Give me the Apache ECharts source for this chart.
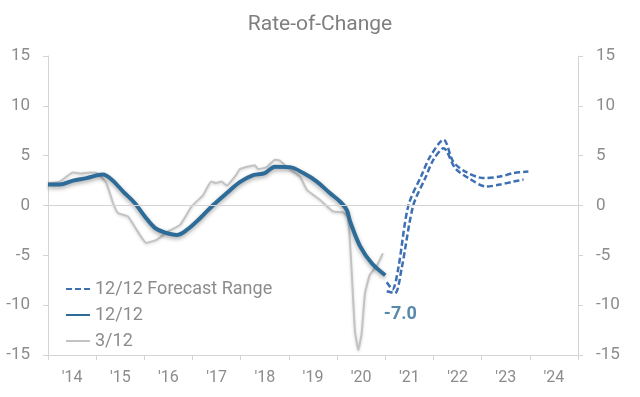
<!DOCTYPE html>
<html>
<head>
<meta charset="utf-8">
<script src="https://cdn.jsdelivr.net/npm/echarts@6/dist/echarts.min.js"></script>
<style>
  html, body { margin: 0; padding: 0; background: #fff; }
  #chart { width: 640px; height: 397px; }
</style>
</head>
<body>
<div id="chart"></div>
<script>
// year labels under the axis (one per year band)
const yearLabels = ["'14", "'15", "'16", "'17", "'18", "'19", "'20", "'21", "'22", "'23", "'24"]
const yTicks = [-15, -10, -5, 0, 5, 10, 15]

// [decimal year, rate-of-change %]
const rate12 = [
  [2014.0, 2.1], [2014.24, 2.1], [2014.52, 2.5], [2014.8, 2.75], [2015.04, 3.05], [2015.14, 3.1],
  [2015.32, 2.6], [2015.56, 1.4], [2015.8, 0.25], [2016.01, -1.1], [2016.22, -2.25], [2016.42, -2.7],
  [2016.67, -2.95], [2016.88, -2.45], [2017.15, -1.3], [2017.43, 0.05], [2017.71, 1.25], [2017.98, 2.35],
  [2018.26, 3.05], [2018.5, 3.25], [2018.71, 3.9], [2019.02, 3.85], [2019.3, 3.25], [2019.58, 2.4],
  [2019.85, 1.25], [2020.06, 0.4], [2020.2, -0.45], [2020.27, -1.6], [2020.48, -4.1], [2020.72, -5.8],
  [2021.0, -7.0]
]

const rate3 = [
  [2014.0, 2.25], [2014.24, 2.4], [2014.52, 3.3], [2014.69, 3.2], [2014.87, 3.3], [2015.04, 3.2],
  [2015.21, 2.25], [2015.35, 0.25], [2015.45, -0.75], [2015.66, -1.1], [2015.84, -2.45], [2016.04, -3.75],
  [2016.25, -3.45], [2016.49, -2.6], [2016.74, -1.95], [2016.98, -0.1], [2017.22, 1.05], [2017.39, 2.4],
  [2017.49, 2.25], [2017.6, 2.4], [2017.71, 2.0], [2017.91, 3.1], [2017.98, 3.65], [2018.29, 4.05],
  [2018.36, 3.65], [2018.54, 3.85], [2018.71, 4.6], [2018.81, 4.5], [2018.99, 3.75], [2019.23, 2.9],
  [2019.37, 1.6], [2019.65, 0.55], [2019.92, -0.6], [2020.13, -0.7], [2020.23, -1.3], [2020.3, -6.4],
  [2020.37, -12.5], [2020.44, -14.5], [2020.51, -12.8], [2020.58, -8.8], [2020.68, -6.95], [2020.82, -6.1],
  [2020.95, -4.8]
]

const forecastHigh = [
  [2021.03, -7.7], [2021.15, -8.4], [2021.27, -6.3], [2021.48, 0], [2021.76, 3.1], [2021.93, 4.9],
  [2022.21, 6.6], [2022.41, 4.4], [2022.66, 3.4], [2023.04, 2.75], [2023.38, 2.9], [2023.66, 3.25],
  [2023.97, 3.4]
]

const forecastLow = [
  [2021.03, -8.6], [2021.2, -8.8], [2021.34, -6.3], [2021.58, 0], [2021.83, 2.75], [2022.0, 4.6],
  [2022.21, 5.75], [2022.45, 3.75], [2022.73, 2.75], [2023.1, 1.9], [2023.38, 2.1], [2023.66, 2.4],
  [2023.87, 2.6]
]

const blue = '#2d6c98'
const dashBlue = '#3c6fb4'
const grey = '#c3c3c3'
const textGrey = '#8c8c8c'
const axisGrey = '#d4d4d4'
const font = 'Roboto, "Noto Sans", sans-serif'

const lastPoint = rate12[rate12.length - 1]

const yAxisBase = (pos) => ({
  type: 'value',
  position: pos,
  min: yTicks[0],
  max: yTicks[yTicks.length - 1],
  interval: 5,
  axisLine: { show: true, lineStyle: { color: axisGrey, width: 1 } },
  axisTick: { show: true, length: 5, lineStyle: { color: axisGrey } },
  splitLine: { show: false },
  axisLabel: { color: textGrey, fontSize: 17, fontFamily: font, margin: 18 }
})

const forecastSeries = (data) => ({
  name: '12/12 Forecast Range',
  type: 'line',
  xAxisIndex: 1,
  data: data,
  symbol: 'none',
  smooth: 0.3,
  z: 4,
  lineStyle: { color: dashBlue, width: 2.5, type: [6, 3] },
  itemStyle: { color: dashBlue }
})

const option = {
  backgroundColor: '#fff',
  animation: false,
  title: {
    text: 'Rate-of-Change',
    left: 'center',
    top: 9,
    textStyle: { color: '#7f7f7f', fontSize: 21, fontWeight: 'normal', fontFamily: font }
  },
  legend: {
    orient: 'vertical',
    left: 60,
    top: 275,
    itemWidth: 24,
    itemHeight: 14,
    itemGap: 8,
    itemStyle: { opacity: 0 },
    textStyle: { color: textGrey, fontSize: 18, fontFamily: font },
    data: ['12/12 Forecast Range', '12/12', '3/12']
  },
  grid: { left: 48, right: 62, top: 56, bottom: 42 },
  xAxis: [
    {
      type: 'category',
      data: yearLabels,
      boundaryGap: true,
      axisLine: { show: true, onZero: false, lineStyle: { color: axisGrey } },
      axisTick: { show: true, length: 5, lineStyle: { color: axisGrey } },
      axisLabel: { color: textGrey, fontSize: 16, fontFamily: font, margin: 15 },
      splitLine: { show: false }
    },
    {
      type: 'value',
      min: 2014,
      max: 2025,
      show: false
    }
  ],
  yAxis: [yAxisBase('left'), yAxisBase('right')],
  series: [
    {
      name: '3/12',
      type: 'line',
      xAxisIndex: 1,
      data: rate3,
      symbol: 'none',
      smooth: 0.15,
      z: 2,
      lineStyle: {
        color: grey, width: 2,
        shadowColor: 'rgba(0,0,0,0.18)', shadowBlur: 3, shadowOffsetY: 1
      },
      itemStyle: { color: grey },
      markLine: {
        silent: true,
        symbol: 'none',
        label: { show: false },
        lineStyle: { color: axisGrey, width: 1, type: 'solid' },
        data: [{ yAxis: 0 }]
      }
    },
    {
      name: '12/12',
      type: 'line',
      xAxisIndex: 1,
      data: rate12,
      symbol: 'none',
      smooth: 0.35,
      z: 3,
      lineStyle: {
        color: blue, width: 4,
        shadowColor: 'rgba(0,0,0,0.35)', shadowBlur: 4, shadowOffsetY: 2
      },
      itemStyle: { color: blue }
    },
    forecastSeries(forecastHigh),
    forecastSeries(forecastLow),
    {
      name: 'last',
      type: 'scatter',
      xAxisIndex: 1,
      data: [lastPoint],
      symbolSize: 0,
      z: 5,
      label: {
        show: true,
        position: 'bottom',
        distance: 30,
        offset: [15, 0],
        formatter: (p) => p.value[1].toFixed(1),
        color: blue,
        fontSize: 18,
        fontWeight: 'bold',
        fontFamily: font
      }
    }
  ]
}

const myChart = echarts.init(document.getElementById('chart'))
myChart.setOption(option)
</script>
</body>
</html>
